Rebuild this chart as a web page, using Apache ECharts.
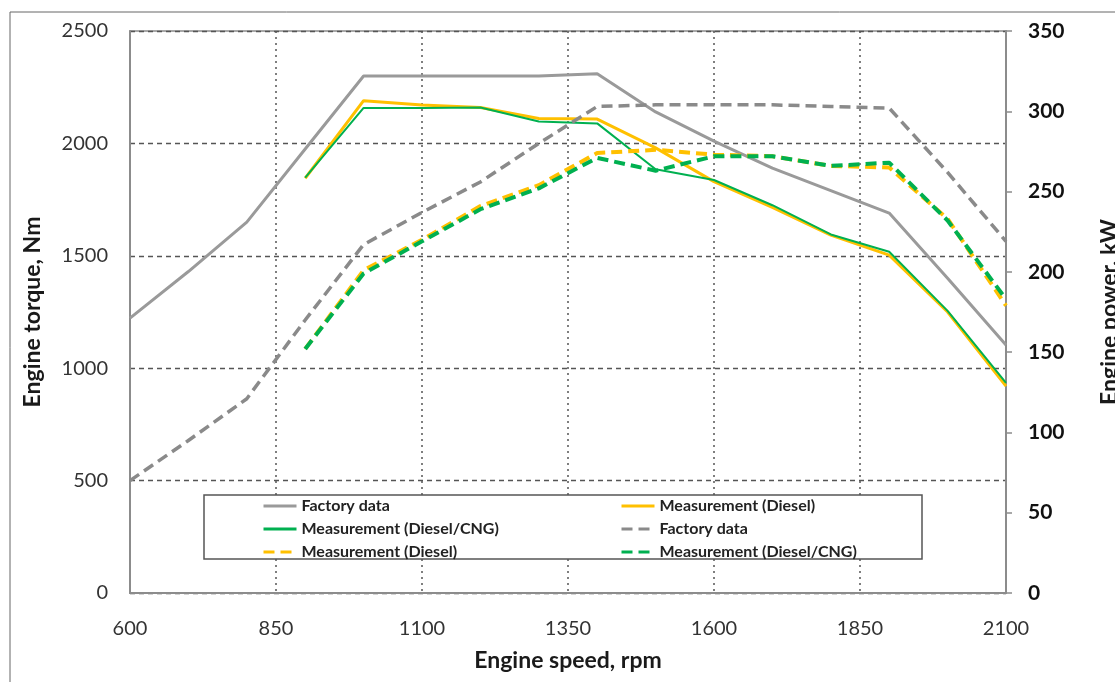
<!DOCTYPE html>
<html>
<head>
<meta charset="utf-8">
<script src="https://cdn.jsdelivr.net/npm/echarts@6/dist/echarts.min.js"></script>
<style>
html,body{margin:0;padding:0;background:#fff;}
#chart{width:1115px;height:682px;}
</style>
</head>
<body>
<div id="chart"></div>
<script>
// ---- data ----
const rpm = [600,700,800,900,1000,1100,1200,1300,1400,1500,1600,1700,1800,1900,2000,2100];
const factoryTorque = [1223,1430,1650,1975,2300,2300,2300,2300,2310,2140,2010,1890,1790,1690,1400,1103];
const dieselTorque  = [null,null,null,1845,2190,2171,2160,2111,2108,1980,1830,1715,1592,1503,1250,920];
const cngTorque     = [null,null,null,1848,2158,2158,2160,2097,2089,1885,1837,1725,1595,1518,1255,935];
const factoryPower  = [70,95,121,170,217,237,256,280,303,304,304,304,303,302,262,219];
const dieselPower   = [null,null,null,152,201,220,241,254,274,276,273,272,266,265,233,179];
const cngPower      = [null,null,null,152,199,219,239,252,271,263,272,272,266,268,232,183];
const xTicks = [600,850,1100,1350,1600,1850,2100];
const names = {
  ft: 'Factory data#t', dt: 'Measurement (Diesel)#t', ct: 'Measurement (Diesel/CNG)#t',
  fp: 'Factory data#p', dp: 'Measurement (Diesel)#p', cp: 'Measurement (Diesel/CNG)#p'
};

const pairs = arr => rpm.map((r,i) => arr[i] == null ? null : [r, arr[i]]).filter(p => p);

const GRAY = '#9a9a9a', GRAYD = '#8a8a8a', YEL = '#FFC000', GRN = '#00B050';
const FONT = 'Lato, "Open Sans", sans-serif';

const chart = echarts.init(document.getElementById('chart'), null, {renderer:'canvas'});

function solid(name, data, color, w, yi){
  return {name, type:'line', data:pairs(data), yAxisIndex:yi, symbol:'none',
    lineStyle:{color, width:w, type:'solid'}, itemStyle:{color}, z:3};
}
function dashed(name, data, color, w, yi){
  return {name, type:'line', data:pairs(data), yAxisIndex:yi, symbol:'none',
    lineStyle:{color, width:w, type:[11,6], cap:'butt', join:'round'}, itemStyle:{color}, z:3};
}

const legendCommon = {
  orient:'vertical', itemWidth:33, itemHeight:14, itemGap:7, padding:0,
  itemStyle:{opacity:0},
  lineStyle:{width:3},
  textStyle:{fontFamily:FONT, fontSize:16, fontWeight:'bold', color:'#222'},
  formatter: n => n.split('#')[0],
  selectedMode:false, z:10
};
const plain = v => String(v);

chart.setOption({
  animation:false,
  backgroundColor:'#fff',
  grid:{left:130, right:109, top:31, bottom:89, outerBoundsMode:'none', containLabel:false,
        show:true, borderColor:'#8c8c8c', borderWidth:1.5, backgroundColor:'transparent'},
  xAxis:{
    type:'value', min:600, max:2100, interval:250,
    name:'Engine speed, rpm', nameLocation:'middle', nameGap:56,
    nameTextStyle:{fontFamily:FONT, fontSize:23, fontWeight:'bold', color:'#1a1a1a'},
    axisLine:{show:true, onZero:false, lineStyle:{color:'#8c8c8c', width:2}},
    axisTick:{show:false},
    axisLabel:{fontFamily:FONT, fontSize:20, color:'#333', margin:26, formatter:plain},
    splitLine:{show:true, lineStyle:{color:'#555', width:1.5, type:[2,4]}}
  },
  yAxis:[{
    type:'value', min:0, max:2500, interval:500, position:'left',
    name:'Engine torque, Nm', nameLocation:'middle', nameGap:86, nameRotate:90,
    nameTextStyle:{fontFamily:FONT, fontSize:23, fontWeight:'bold', color:'#1a1a1a'},
    axisLine:{show:true, lineStyle:{color:'#8c8c8c', width:2}},
    axisTick:{show:false},
    axisLabel:{fontFamily:FONT, fontSize:20, color:'#333', margin:22, formatter:plain},
    splitLine:{show:true, lineStyle:{color:'#555', width:1.3, type:[5,4]}}
  },{
    type:'value', min:0, max:350, interval:50, position:'right',
    name:'Engine power, kW', nameLocation:'middle', nameGap:92, nameRotate:90,
    nameTextStyle:{fontFamily:FONT, fontSize:23, fontWeight:'bold', color:'#1a1a1a'},
    axisLine:{show:true, lineStyle:{color:'#8c8c8c', width:2}},
    axisTick:{show:true, length:6, inside:false, lineStyle:{color:'#8c8c8c', width:1.5}},
    axisLabel:{fontFamily:FONT, fontSize:21, fontWeight:'bold', color:'#111', margin:22, formatter:plain},
    splitLine:{show:false}
  }],
  legend:[
    Object.assign({}, legendCommon, {left:262, top:498, data:[names.ft, names.ct, names.dp]}),
    Object.assign({}, legendCommon, {left:620, top:498, data:[names.dt, names.fp, names.cp]})
  ],
  graphic:[
    {type:'rect', shape:{x:10, y:12, width:1200, height:800}, style:{fill:'none', stroke:'#666', lineWidth:1}, silent:true, z:-10},
    {type:'rect', shape:{x:204, y:495, width:718, height:64}, style:{fill:'#fff', stroke:'#555', lineWidth:1.5}, silent:true, z:1}
  ],
  series:[
    solid(names.ft, factoryTorque, GRAY, 3, 0),
    solid(names.dt, dieselTorque, YEL, 3, 0),
    solid(names.ct, cngTorque, GRN, 2, 0),
    dashed(names.fp, factoryPower, GRAYD, 3.5, 1),
    dashed(names.dp, dieselPower, YEL, 4, 1),
    dashed(names.cp, cngPower, GRN, 4, 1)
  ]
});
</script>
</body>
</html>
